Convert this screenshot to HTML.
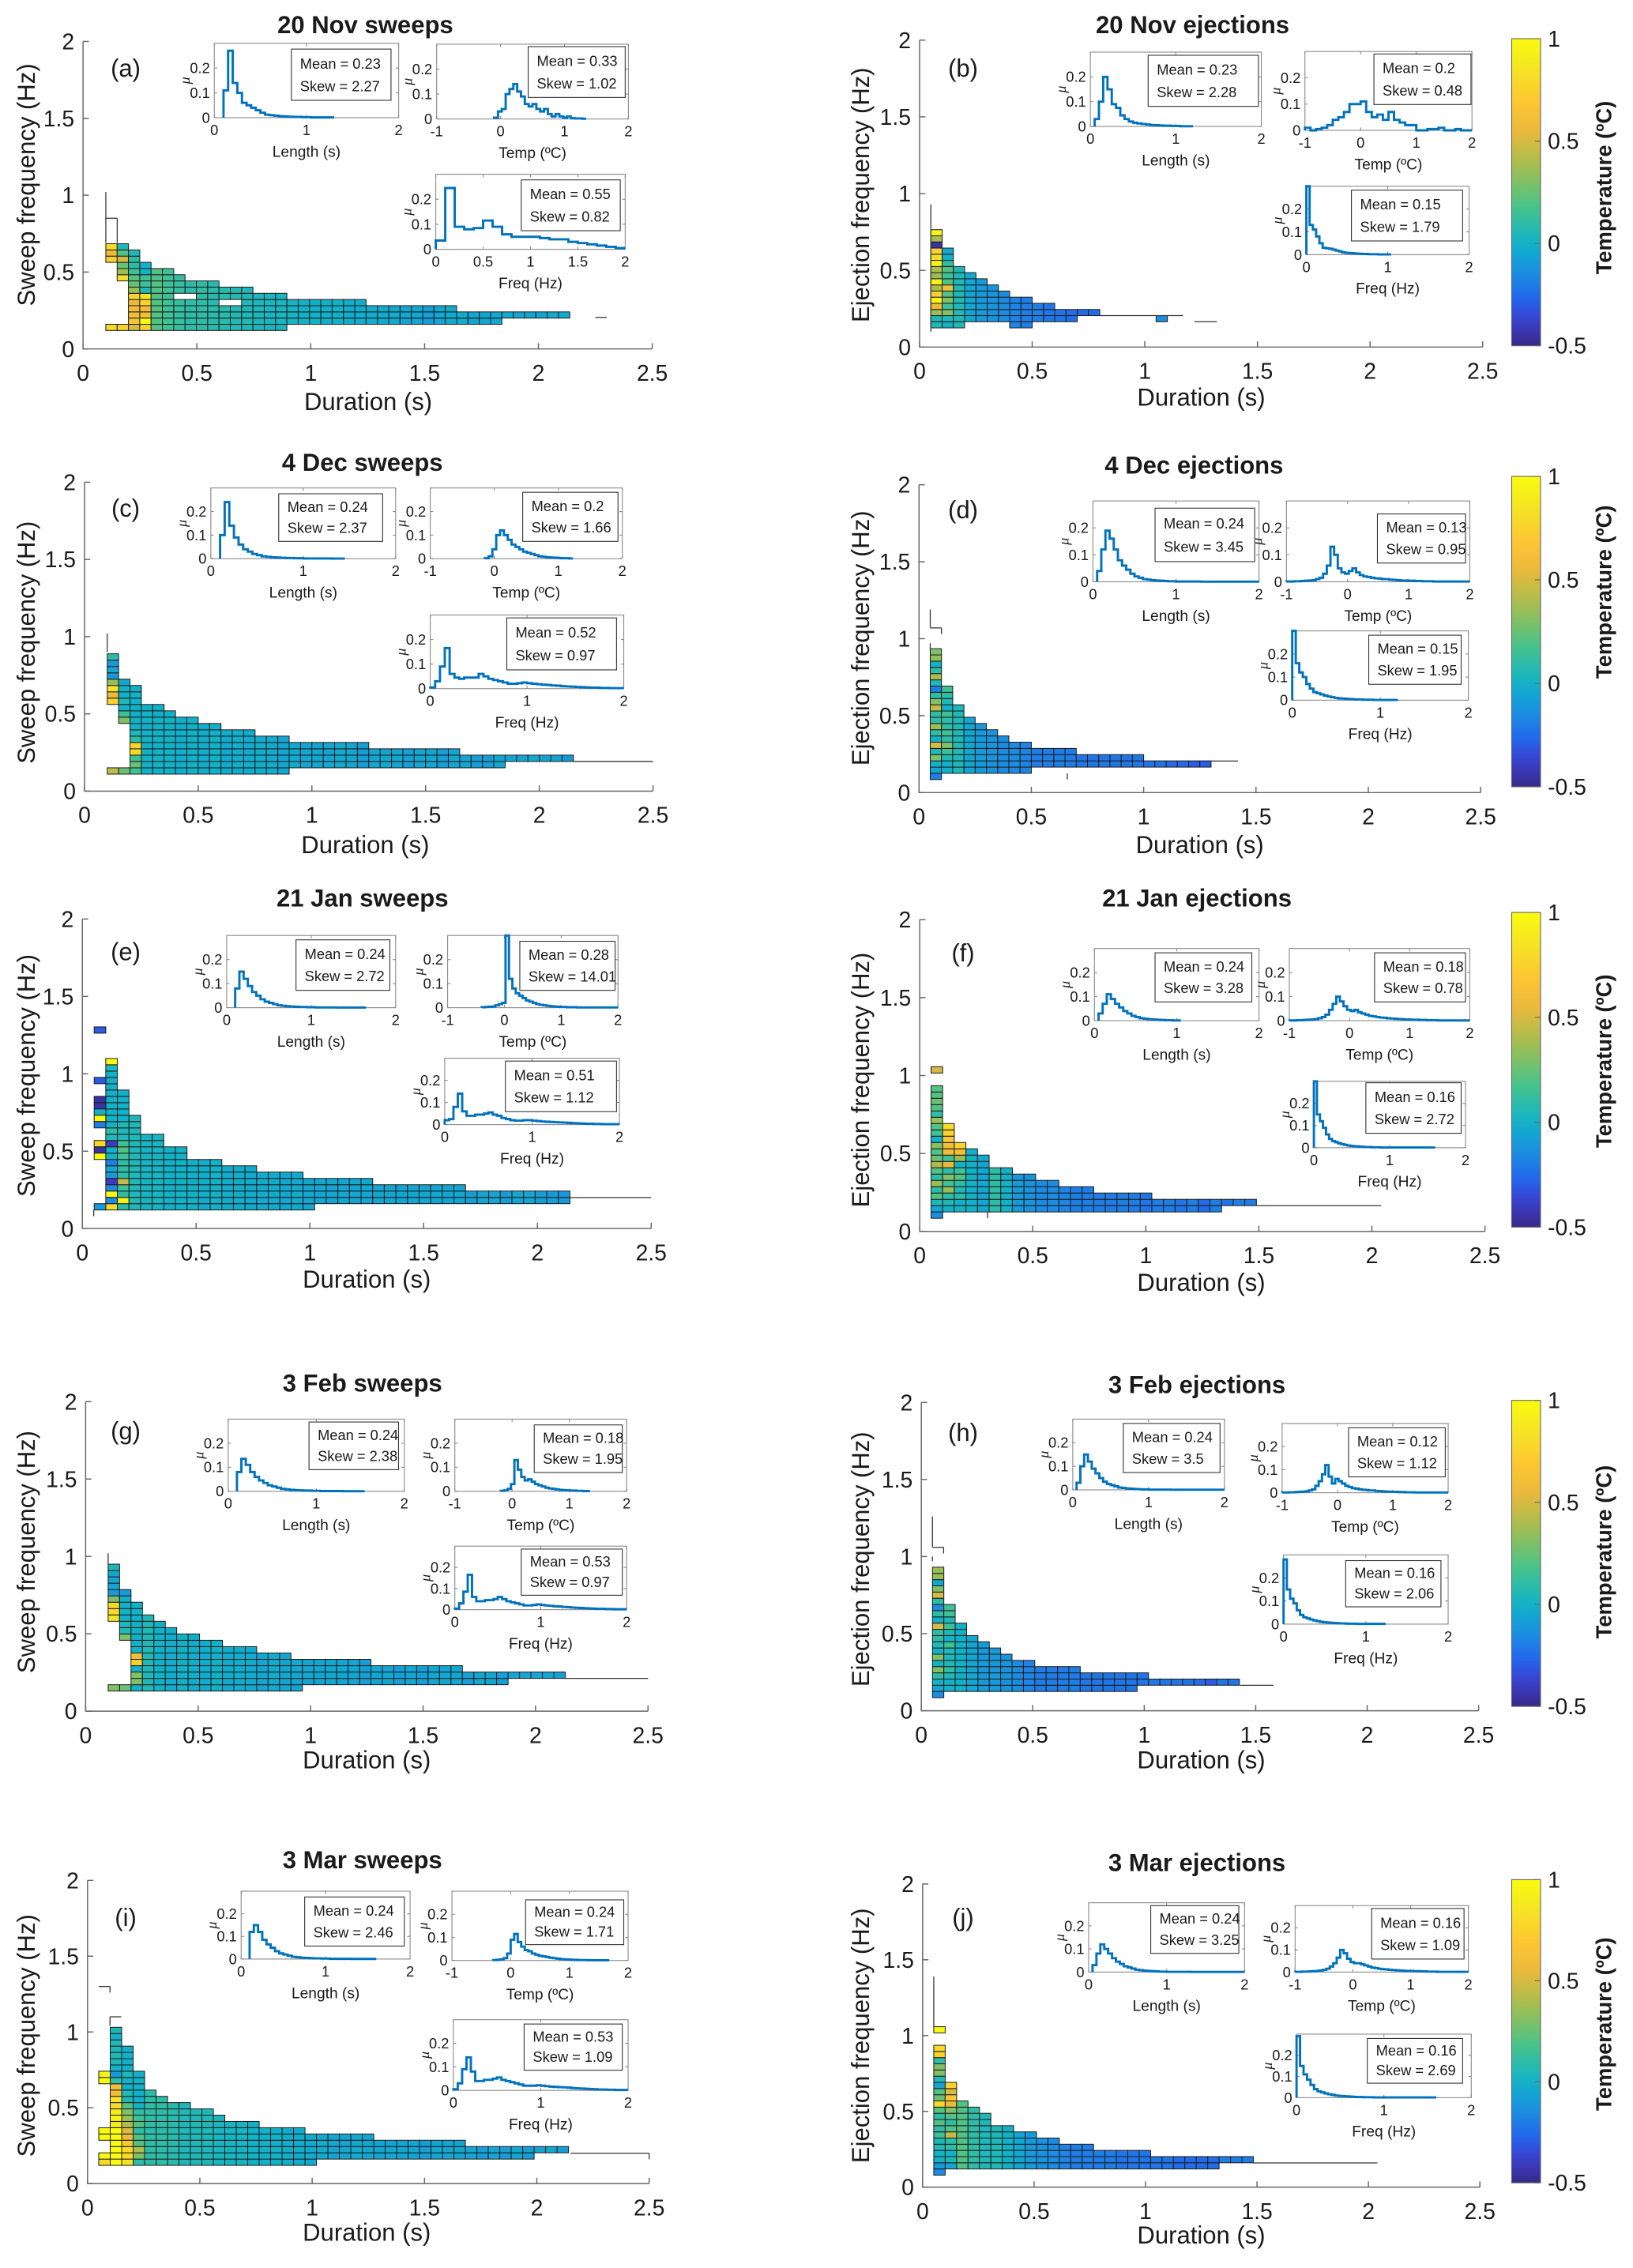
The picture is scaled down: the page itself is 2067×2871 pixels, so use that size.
<!DOCTYPE html>
<html><head><meta charset="utf-8">
<style>
html,body{margin:0;padding:0;background:#fff;}
svg{display:block;font-family:"Liberation Sans",Arial,sans-serif;}
</style></head>
<body>
<svg id="fig" xmlns="http://www.w3.org/2000/svg" width="2067" height="2871" viewBox="0 0 1131 1571">
<defs>
<linearGradient id="cbgrad" x1="0" y1="1" x2="0" y2="0"></linearGradient>
</defs>
</svg>
<script>
// ---------------- heatmap data (row indices / temperatures) ----------------
const aColTop=[14,14,13,11,10,10,9,8,8,8,7,7,7,6,6,6,5,5,5,5,5,5,5,4,4,4,4,4,4,4,4,3,3,3,3,3,3,3,3,3,3];
const aColBot=[11,8,0,0,0,0,0,0,0,0,0,0,0,0,0,0,1,1,1,1,1,1,1,1,1,1,1,1,1,1,1,1,1,1,1,2,2,2,2,2,2];
const aColTemp=[0.6,0.3,0.4,0.5,0.2,0.15,0.12,0.1,0.1,0.08,0.08,0.06,0.05,0.04,0.03,0.03,0.02,0,0,0,0,-0.02,-0.02,-0.02,-0.03,-0.03,-0.05,-0.05,-0.08,-0.05,-0.03,-0.03,-0.05,-0.05,-0.05,-0.03,-0.05,-0.05,-0.05,-0.03,-0.03];
const aColRows=[[0,[0.75,0.55,0.8]],[1,[0.8,0.35,0.25,0.5,0.2,0.05]],[2,[0.5,0.65,0.6,0.6,0.55,0.75,0.35,0.25,0.2,0.15,0.1,0.1,0.05]],[3,[0.75,1.0,0.6,0.6,0.75,0.85,0.05,0.15,0.15,0.0,0.0]]];
const aExtras=[[0,0,0.8],[1,0,0.75]];
const aHoles=[[6,5],[7,5],[10,4],[11,4]];
const aLines=[[0.1,0.69,0.1,1.02],[0.1,0.85,0.15,0.85],[0.15,0.69,0.15,0.85],[2.25,0.205,2.3,0.205]];

const bColTop=[16,13,10,9,8,7,6,5,5,4,4,3,3,3,3];
const bColBot=[0,0,0,1,1,1,1,0,0,1,1,1,1,2,2];
const bColTemp=[0.5,0.25,0.05,-0.05,-0.1,-0.12,-0.15,-0.18,-0.2,-0.2,-0.22,-0.22,-0.25,-0.25,-0.25];
const bColRows=[[0,[0.05,0.05,0.35,0.55,0.95,0.75,0.4,0.95,0.35,0.4,0.95,0.8,0.75,-0.45,0.4,0.95]],[1,[0.0,0.05,0.3,0.15,0.3,0.2,0.6,0.2,0.15,0.2,0.1,0.0,-0.05]]];
const bExtras=[[20,1,-0.15]];
const bHoles=[];
const bLines=[[0.05,0.1,0.05,0.93],[0.8,0.205,1.17,0.205],[1.22,0.165,1.32,0.165]];

const cColTop=[19,15,14,11,11,10,9,9,8,8,7,7,7,6,6,6,5,5,5,5,5,5,5,4,4,4,4,4,4,4,4,3,3,3,3,3,3,3,3,3,3];
const cColBot=[11,8,0,0,0,0,0,0,0,0,0,0,0,0,0,0,1,1,1,1,1,1,1,1,1,1,1,1,1,1,1,1,1,1,1,2,2,2,2,2,2];
const cColTemp=[0.3,0.1,0.1,0.0,0.0,0.0,-0.02,0.0,-0.02,0.0,-0.03,-0.02,-0.03,-0.02,-0.03,-0.05,-0.03,-0.05,-0.05,-0.05,-0.03,-0.05,-0.08,-0.05,-0.05,-0.05,-0.08,-0.05,-0.05,-0.08,-0.05,-0.05,-0.08,-0.08,-0.05,-0.05,-0.05,-0.03,-0.05,-0.05,-0.1];
const cColRows=[[0,[0.75,0.55,0.85,0.35,-0.1,-0.05,-0.1,0.1]],[1,[0.3,0.15,0.0,0.05,0.0,0.0,-0.05]],[2,[0.15,0.25,0.15,0.8,0.75,0.1,0.05,0.0,0.0,0.0,0.0,0.0,0.0,0.0]]];
const cExtras=[[0,0,0.45],[1,0,0.25]];
const cHoles=[];
const cLines=[[0.1,0.9,0.1,1.02],[2.15,0.192,2.5,0.192]];

const dColTop=[20,14,11,9,8,7,6,5,5,4,4,4,4,3,3,3,3,3,3,2,2,2,2,2,2];
const dColBot=[0,0,0,0,0,0,0,0,0,1,1,1,1,1,1,1,1,1,1,1,1,1,1,1,1];
const dColTemp=[0.2,0.1,0.05,-0.05,-0.1,-0.12,-0.15,-0.15,-0.18,-0.2,-0.2,-0.2,-0.2,-0.22,-0.22,-0.22,-0.22,-0.22,-0.22,-0.22,-0.22,-0.25,-0.25,-0.3,-0.3];
const dColRows=[[0,[-0.05,0.0,0.3,0.05,0.5,0.0,0.1,0.35,0.1,0.1,0.45,0.3,0.1,-0.2,0.05,0.4,0.1,0.0,0.35,0.3]],[1,[0.0,0.0,0.05,0.15,0.3,0.1,0.15,0.1,0.1,0.15,0.0,0.05,0.1,0.15]]];
const dExtras=[[0,-1,-0.2]];
const dHoles=[];
const dLines=[[0.05,1.07,0.05,1.19],[0.05,1.07,0.1,1.07],[0.1,1.07,0.1,1.03],[0.05,0.93,0.05,0.97],[1.3,0.205,1.42,0.205],[0.66,0.085,0.66,0.125]];

const eColTop=[0,24,19,15,12,12,10,10,8,8,8,7,7,7,6,6,6,6,5,5,5,5,5,5,4,4,4,4,4,4,4,4,3,3,3,3,3,3,3,3,3];
const eColBot=[0,0,0,0,0,0,0,0,0,0,0,0,0,0,0,0,0,0,0,1,1,1,1,1,1,1,1,1,1,1,1,1,1,1,1,1,1,1,1,1,1];
const eColTemp=[0,0,0.1,0.05,0.02,0.02,0.0,0.0,0.0,-0.02,0.0,-0.02,-0.02,-0.03,-0.03,-0.03,-0.05,-0.03,-0.05,-0.05,-0.05,-0.05,-0.05,-0.05,-0.05,-0.05,-0.05,-0.05,-0.05,-0.05,-0.05,-0.05,-0.08,-0.05,-0.05,-0.08,-0.05,-0.05,-0.08,-0.08,-0.1];
const eColRows=[[1,[0.8,-0.15,1.0,-0.15,-0.4,-0.1,-0.05,-0.2,0.0,0.0,-0.4,0.05,0.1,0.0,0.0,0.0,0.0,0.0,0.0,0.0,0.0,0.0,0.05,1.0]],[2,[0.1,0.95,0.1,0.15,0.45,0.1,0.1,0.1,0.15,0.2,0.15,0.05,0.05,0.05,0.0,0.0,0.0,0.0,0.0]]];
const eExtras=[[0,28,-0.3],[0,20,-0.3],[0,17,-0.45],[0,16,-0.45],[0,15,0.0],[0,14,1.0],[0,13,-0.2],[0,10,0.8],[0,9,-0.45],[0,8,1.0],[0,0,-0.1]];
const eHoles=[];
const eLines=[[2.14,0.2,2.5,0.2],[0.05,0.08,0.05,0.12]];

const fColTop=[20,14,11,10,9,7,7,6,6,5,5,4,4,4,3,3,3,3,3,2,2,2,2,2,2,2,2,2];
const fColBot=[0,0,0,0,0,0,0,0,0,0,0,0,0,0,0,0,0,0,0,0,0,0,0,0,0,1,1,1];
const fColTemp=[0.2,0.3,0.1,0.0,-0.05,0.1,0.0,-0.1,-0.12,-0.15,-0.15,-0.18,-0.2,-0.2,-0.2,-0.2,-0.2,-0.2,-0.22,-0.2,-0.2,-0.22,-0.2,-0.25,-0.2,-0.22,-0.2,-0.2];
const fColRows=[[0,[-0.05,0.05,0.2,0.1,0.35,0.1,0.2,0.4,0.25,0.2,0.3,0.0,0.15,0.2,0.35,0.1,0.2,0.25,0.2,0.2]],[1,[0.0,0.05,0.1,0.35,0.15,0.3,0.1,0.55,0.15,0.6,0.6,0.7,0.75,0.8]],[2,[0.0,0.0,0.1,0.05,0.1,0.2,0.15,0.0,0.35,0.6,0.75]]];
const fExtras=[[0,-1,-0.15],[0,22,0.5]];
const fHoles=[];
const fLines=[[1.49,0.165,2.04,0.165],[0.3,0.085,0.3,0.125]];

const gColTop=[20,16,14,12,11,10,9,9,8,8,7,7,7,6,6,6,5,5,5,5,5,5,5,4,4,4,4,4,4,4,4,3,3,3,3,3,3,3,3,3];
const gColBot=[11,8,0,0,0,0,0,0,0,0,0,0,0,0,0,0,0,1,1,1,1,1,1,1,1,1,1,1,1,1,1,1,1,1,1,2,2,2,2,2];
const gColTemp=[0.3,0.05,0.1,0.05,0.0,-0.02,0.0,-0.02,-0.02,0.0,-0.03,-0.02,-0.03,-0.05,-0.03,-0.05,-0.05,-0.05,-0.05,-0.05,-0.05,-0.05,-0.08,-0.05,-0.05,-0.08,-0.05,-0.08,-0.05,-0.05,-0.05,-0.08,-0.05,-0.05,-0.08,-0.05,-0.05,-0.05,-0.05,-0.08];
const gColRows=[[0,[0.85,0.8,0.8,0.3,-0.1,-0.05,-0.05,-0.05,0.05]],[1,[0.3,0.05,0.05,0.0,0.0,0.0,0.0,-0.1]],[2,[0.0,0.3,0.3,0.0,0.75,0.6,0.0,0.0,0.0,0.0,0.0,0.0,0.0,0.0]]];
const gExtras=[[0,0,0.3],[1,0,0.25]];
const gHoles=[];
const gLines=[[0.1,0.95,0.1,1.02],[2.13,0.212,2.5,0.212]];

const hColTop=[20,14,11,9,8,7,6,5,5,4,4,4,4,3,3,3,3,3,3,2,2,2,2,2,2,2,2];
const hColBot=[0,0,0,0,0,0,0,0,0,0,0,0,0,0,0,0,0,0,1,1,1,1,1,1,1,1,1];
const hColTemp=[0.1,0.05,0.0,-0.05,-0.1,-0.1,-0.12,-0.15,-0.18,-0.2,-0.2,-0.2,-0.2,-0.22,-0.22,-0.22,-0.22,-0.22,-0.22,-0.22,-0.22,-0.22,-0.22,-0.25,-0.3,-0.22,-0.22];
const hColRows=[[0,[-0.05,0.0,0.1,0.3,0.0,0.3,0.0,0.05,0.1,0.1,0.5,0.0,0.1,-0.15,0.1,0.5,0.3,-0.05,0.35,0.35]],[1,[0.0,0.0,0.05,0.1,0.05,0.05,0.05,0.15,0.0,0.05,0.15,0.05,0.15,0.15]]];
const hExtras=[[0,-1,-0.15]];
const hHoles=[];
const hLines=[[0.05,1.06,0.05,1.26],[0.05,1.06,0.1,1.06],[0.1,1.06,0.1,1.02],[0.05,0.97,0.05,1.0],[1.43,0.165,1.58,0.165]];

const iColTop=[0,22,19,15,12,11,10,10,9,9,8,7,7,7,6,6,6,6,5,5,5,5,5,5,4,4,4,4,4,4,4,4,3,3,3,3,3,3,3,3,3];
const iColBot=[0,0,0,0,0,0,0,0,0,0,0,0,0,0,0,0,0,0,0,1,1,1,1,1,1,1,1,1,1,1,1,1,1,1,1,1,1,1,2,2,2];
const iColTemp=[0,0.5,0.5,0.15,0.1,0.1,0.08,0.05,0.05,0.05,0.03,0.02,0.02,0.0,0.0,0.0,-0.02,-0.02,-0.03,-0.03,-0.05,-0.05,-0.03,-0.05,-0.05,-0.05,-0.05,-0.05,-0.08,-0.05,-0.05,-0.05,-0.05,-0.08,-0.05,-0.08,-0.05,-0.08,-0.05,-0.05,-0.08];
const iColRows=[[1,[1.0,1.0,1.0,1.0,1.0,1.0,0.9,0.95,0.9,0.8,0.85,0.6,0.6,0.1,-0.1,0.0,0.05,0.05,0.05,0.05,0.0,0.05]],[2,[0.85,0.8,0.8,0.7,0.55,0.5,0.4,0.35,0.3,0.2,0.05,0.05,0.0,0.0,0.05,0.0,0.0,0.0,0.0]],[3,[0.1,0.3,0.4,0.2,0.2,0.1,0.2,0.15,0.1,0.0,0.0,0.0,0.0,0.0,0.0]]];
const iExtras=[[0,0,0.8],[0,1,1.0],[0,4,1.0],[0,5,1.0],[0,13,1.0],[0,14,0.95]];
const iHoles=[];
const iLines=[[0.05,1.3,0.1,1.3],[0.1,1.3,0.1,1.26],[0.1,1.04,0.1,1.1],[0.1,1.1,0.15,1.1],[2.15,0.2,2.5,0.2],[2.5,0.2,2.5,0.16]];

const jColTop=[20,14,11,10,9,7,7,6,6,5,5,4,4,4,3,3,3,3,3,2,2,2,2,2,2,2,2,2];
const jColBot=[0,0,0,0,0,0,0,0,0,0,0,0,0,0,0,0,0,0,0,0,0,0,0,0,0,1,1,1];
const jColTemp=[0.2,0.3,0.2,0.1,0.05,0.05,0.0,-0.05,-0.1,-0.12,-0.15,-0.18,-0.2,-0.2,-0.2,-0.2,-0.22,-0.22,-0.22,-0.22,-0.22,-0.25,-0.25,-0.25,-0.25,-0.2,-0.2,-0.2];
const jColRows=[[0,[-0.1,0.0,0.0,0.05,0.05,0.15,0.1,0.2,0.1,0.2,0.8,0.25,0.2,-0.05,0.05,0.3,0.3,0.1,0.75,0.8]],[1,[-0.05,0.05,0.0,0.1,0.1,0.45,0.2,0.1,0.2,0.3,0.55,0.7,0.5,0.75]]];
const jExtras=[[0,-1,-0.15],[0,22,1.0]];
const jHoles=[];
const jLines=[[0.05,1.06,0.05,1.39],[1.48,0.16,2.04,0.16]];

// ---------------- inset histogram values ----------------
const aLen=[0.11,0.27,0.14,0.1,0.06,0.05,0.04,0.03,0.02,0.012,0.01,0.008,0.006,0.005,0.004,0.003,0.003,0.002,0.002,0.001,0.001,0.001,0.001,0.001];
const cLen=[0.1,0.24,0.14,0.09,0.06,0.04,0.03,0.02,0.015,0.01,0.008,0.006,0.005,0.004,0.003,0.003,0.002,0.002,0.001,0.001,0.001,0.001,0.001,0.001,0.0005,0.0005,0.0005];
const eLen=[0.08,0.15,0.12,0.09,0.065,0.05,0.035,0.025,0.02,0.015,0.01,0.008,0.006,0.005,0.004,0.003,0.003,0.002,0.002,0.001,0.001,0.001,0.001,0.001,0.0005,0.0005,0.0005,0.0005,0.0005,0.0005,0.0005];
const gLen=[0.08,0.135,0.11,0.08,0.06,0.045,0.035,0.025,0.02,0.015,0.01,0.008,0.006,0.005,0.004,0.003,0.003,0.002,0.002,0.001,0.001,0.001,0.001,0.001,0.0005,0.0005,0.0005,0.0005,0.0005];
const iLen=[0.12,0.15,0.12,0.085,0.065,0.05,0.035,0.025,0.02,0.015,0.01,0.008,0.006,0.005,0.004,0.003,0.003,0.002,0.002,0.001,0.001,0.001,0.001,0.001,0.0005,0.0005,0.0005,0.0005,0.0005,0.0005];
const bLen=[0.03,0.1,0.2,0.15,0.09,0.075,0.045,0.03,0.02,0.015,0.012,0.01,0.008,0.006,0.005,0.004,0.003,0.003,0.002,0.002,0.001,0.001,0.001];
const dLen=[0.04,0.12,0.19,0.16,0.12,0.08,0.06,0.045,0.03,0.02,0.015,0.01,0.008,0.006,0.005,0.004,0.003,0.002,0.002,0.001,0.001,0.001,0.001,0.001,0.001,0.0005,0.0005,0.0005,0.0005,0.0005,0.0005,0.0005,0.0005,0.0005,0.0005,0.0005,0.0005,0.0005,0.0005];
const fLen=[0.03,0.07,0.11,0.09,0.07,0.055,0.04,0.03,0.02,0.015,0.01,0.008,0.006,0.005,0.004,0.003,0.002,0.002,0.001,0.001];
const hLen=[0.03,0.1,0.15,0.12,0.09,0.07,0.05,0.035,0.025,0.02,0.015,0.01,0.008,0.006,0.005,0.004,0.003,0.002,0.002,0.001,0.001,0.001,0.001,0.001,0.001,0.0005,0.0005,0.0005,0.0005,0.0005,0.0005,0.0005,0.0005,0.0005,0.0005,0.0005,0.0005,0.0005,0.0005];
const jLen=[0.03,0.08,0.12,0.1,0.08,0.06,0.045,0.035,0.025,0.02,0.015,0.01,0.008,0.006,0.005,0.004,0.003,0.002,0.002,0.001,0.001,0.001,0.001,0.001,0.001,0.0005,0.0005,0.0005,0.0005,0.0005,0.0005,0.0005,0.0005,0.0005,0.0005,0.0005,0.0005,0.0005,0.0005];

const aTmp=[0.005,0.03,0.04,0.1,0.12,0.14,0.11,0.09,0.06,0.05,0.06,0.04,0.03,0.04,0.02,0.01,0.02,0.01,0.005,0.01,0.003,0.002,0.002,0.001];
const bTmp=[0.01,0,0.005,0.01,0.02,0.04,0.05,0.07,0.1,0.1,0.11,0.07,0.05,0.06,0.04,0.07,0.04,0.03,0.02,0.02,0,0,0.005,0.005,0.01,0,0,0.005,0,0];
const cTmp=[0.002,0.01,0.04,0.1,0.12,0.1,0.08,0.06,0.05,0.04,0.03,0.025,0.02,0.015,0.01,0.008,0.006,0.005,0.004,0.003,0.002,0.002,0.001];
const dTmp=[0.001,0.001,0.002,0.002,0.003,0.004,0.005,0.006,0.01,0.015,0.03,0.06,0.13,0.1,0.05,0.035,0.03,0.04,0.05,0.035,0.025,0.02,0.018,0.015,0.013,0.012,0.01,0.01,0.008,0.007,0.006,0.005,0.005,0.004,0.004,0.003,0.003,0.002,0.002,0.002,0.001,0.001,0.001,0.001,0.001,0.001,0.001,0.001,0.001,0.001];
const eTmp=[0.002,0.003,0.004,0.005,0.01,0.015,0.02,0.3,0.12,0.08,0.06,0.05,0.04,0.03,0.025,0.02,0.015,0.012,0.01,0.008,0.006,0.005,0.004,0.003,0.003,0.002,0.002,0.002,0.001,0.001,0.001,0.001,0.001,0.001,0.001,0.001,0.001,0.001,0.001,0.001];
const fTmp=[0.001,0.001,0.002,0.002,0.003,0.004,0.005,0.007,0.01,0.015,0.025,0.045,0.07,0.1,0.08,0.06,0.045,0.04,0.045,0.035,0.03,0.025,0.02,0.018,0.015,0.013,0.012,0.01,0.009,0.008,0.007,0.006,0.005,0.005,0.004,0.004,0.003,0.003,0.002,0.002,0.002,0.001,0.001,0.001,0.001,0.001,0.001,0.001,0.001,0.001];
const gTmp=[0.002,0.004,0.01,0.03,0.13,0.09,0.06,0.045,0.05,0.04,0.03,0.025,0.02,0.015,0.012,0.01,0.008,0.006,0.005,0.004,0.003,0.003,0.002,0.002,0.001,0.001];
const hTmp=[0.001,0.001,0.002,0.002,0.003,0.004,0.005,0.006,0.01,0.015,0.03,0.05,0.08,0.12,0.07,0.04,0.06,0.05,0.04,0.03,0.025,0.02,0.018,0.015,0.013,0.012,0.01,0.01,0.008,0.007,0.006,0.005,0.005,0.004,0.004,0.003,0.003,0.002,0.002,0.002,0.001,0.001,0.001,0.001,0.001,0.001,0.001,0.001,0.001,0.001];
const iTmp=[0.002,0.003,0.005,0.01,0.03,0.09,0.115,0.08,0.06,0.045,0.04,0.03,0.025,0.02,0.018,0.015,0.012,0.01,0.008,0.006,0.005,0.004,0.003,0.003,0.002,0.002,0.002,0.001,0.001,0.001,0.001,0.001,0.001];
const jTmp=[0.001,0.001,0.002,0.002,0.003,0.004,0.005,0.007,0.01,0.015,0.025,0.04,0.065,0.1,0.085,0.06,0.045,0.04,0.04,0.035,0.03,0.025,0.02,0.018,0.015,0.013,0.012,0.01,0.009,0.008,0.007,0.006,0.005,0.005,0.004,0.004,0.003,0.003,0.002,0.002,0.002,0.001,0.001,0.001,0.001,0.001,0.001,0.001,0.001,0.001];

const aFrq=[0.035,0.245,0.09,0.08,0.085,0.115,0.09,0.06,0.05,0.05,0.05,0.045,0.04,0.04,0.03,0.025,0.02,0.015,0.01,0.005];
const cFrq=[0.005,0.03,0.09,0.165,0.06,0.045,0.04,0.045,0.045,0.045,0.06,0.05,0.04,0.035,0.03,0.025,0.02,0.02,0.022,0.025,0.022,0.02,0.018,0.016,0.015,0.013,0.012,0.01,0.009,0.008,0.007,0.006,0.005,0.004,0.004,0.003,0.003,0.002,0.002,0.002];
const eFrq=[0.02,0.025,0.08,0.14,0.06,0.04,0.04,0.045,0.045,0.05,0.055,0.045,0.04,0.03,0.025,0.02,0.018,0.018,0.02,0.02,0.018,0.016,0.014,0.013,0.012,0.011,0.01,0.009,0.008,0.007,0.006,0.005,0.004,0.004,0.003,0.003,0.002,0.002,0.002,0.002];
const gFrq=[0.005,0.03,0.085,0.165,0.06,0.04,0.04,0.045,0.045,0.05,0.06,0.05,0.04,0.035,0.03,0.025,0.02,0.02,0.022,0.025,0.022,0.02,0.018,0.016,0.015,0.013,0.012,0.01,0.009,0.008,0.007,0.006,0.005,0.004,0.004,0.003,0.003,0.002,0.002,0.002];
const iFrq=[0.005,0.03,0.09,0.14,0.08,0.04,0.04,0.045,0.045,0.05,0.055,0.045,0.04,0.035,0.03,0.025,0.02,0.02,0.02,0.022,0.02,0.018,0.016,0.015,0.014,0.013,0.012,0.01,0.009,0.008,0.007,0.006,0.005,0.004,0.004,0.003,0.003,0.002,0.002,0.002];
const bFrq=[0.3,0.13,0.11,0.08,0.05,0.03,0.028,0.026,0.022,0.018,0.014,0.01,0.008,0.007,0.006,0.005,0.004,0.003,0.003,0.002,0.002,0.002,0.001,0.001,0.001,0.001];
const dFrq=[0.3,0.16,0.12,0.1,0.07,0.05,0.035,0.03,0.025,0.02,0.016,0.013,0.01,0.008,0.007,0.006,0.005,0.004,0.003,0.003,0.002,0.002,0.002,0.001,0.001,0.001,0.001,0.001,0.001,0.001];
const fFrq=[0.3,0.15,0.12,0.09,0.06,0.04,0.03,0.025,0.02,0.016,0.013,0.01,0.008,0.007,0.006,0.005,0.004,0.003,0.003,0.002,0.002,0.002,0.001,0.001,0.001,0.001,0.001,0.001,0.001,0.001,0.001,0.001,0.001,0.001,0.001,0.001,0.001,0.001,0.001,0.001];
const hFrq=[0.28,0.15,0.11,0.09,0.06,0.04,0.03,0.025,0.02,0.016,0.013,0.01,0.008,0.007,0.006,0.005,0.004,0.003,0.003,0.002,0.002,0.002,0.001,0.001,0.001,0.001,0.001,0.001,0.001,0.001,0.001];
const jFrq=[0.29,0.15,0.11,0.085,0.06,0.04,0.03,0.025,0.02,0.016,0.013,0.01,0.008,0.007,0.006,0.005,0.004,0.003,0.003,0.002,0.002,0.002,0.001,0.001,0.001,0.001,0.001,0.001,0.001,0.001,0.001,0.001,0.001,0.001,0.001,0.001,0.001,0.001,0.001,0.001];

// legend stats [mean, skew] for Length, Temp, Freq
const aStats=[["0.23","2.27"],["0.33","1.02"],["0.55","0.82"]];
const bStats=[["0.23","2.28"],["0.2","0.48"],["0.15","1.79"]];
const cStats=[["0.24","2.37"],["0.2","1.66"],["0.52","0.97"]];
const dStats=[["0.24","3.45"],["0.13","0.95"],["0.15","1.95"]];
const eStats=[["0.24","2.72"],["0.28","14.01"],["0.51","1.12"]];
const fStats=[["0.24","3.28"],["0.18","0.78"],["0.16","2.72"]];
const gStats=[["0.24","2.38"],["0.18","1.95"],["0.53","0.97"]];
const hStats=[["0.24","3.5"],["0.12","1.12"],["0.16","2.06"]];
const iStats=[["0.24","2.46"],["0.24","1.71"],["0.53","1.09"]];
const jStats=[["0.24","3.25"],["0.16","1.09"],["0.16","2.69"]];

const mainXTicks=[0,0.5,1,1.5,2,2.5];
const mainXTickLabels=["0","0.5","1","1.5","2","2.5"];
const mainYTicks=[0,0.5,1,1.5,2];
const mainYTickLabels=["0","0.5","1","1.5","2"];
const cbTicks=[1,0.5,0,-0.5];
const cbTickLabels=["1","0.5","0","-0.5"];
const insetYTicks=[0,0.1,0.2];
const insetYTickLabels=["0","0.1","0.2"];

// ---------------- layout ----------------
const SW={d0:0.1,cw:0.05};
const panels=[
 {id:'a',title:'20 Nov sweeps',tp:[253,23],lp:[87,53],xl:[255,284],yl:[18,128],yname:'Sweep frequency (Hz)',x0:57.5,y0:241.7,xs:157.7,ys:106.5,
  hm:{d0:0.10,cw:0.0497,f0:0.12,rh:0.0403,top:aColTop,bot:aColBot,temp:aColTemp,rows:aColRows,extras:aExtras,holes:aHoles},lines:aLines,
  ins:[{r:[148.4,30,276.1,81.5],lg:[201.8,34,270.8,69.5],x:[0,2],xt:[0,1,2],lab:'Length (s)',v:aLen,s:0.1,w:0.05},
       {r:[302.4,30.6,435.2,82.4],lg:[365.8,32.3,433,67.5],x:[-1,2],xt:[-1,0,1,2],lab:'Temp (ºC)',v:aTmp,s:-0.1,w:0.06},
       {r:[301.8,120.7,433,172.7],lg:[361,124.6,429.6,159.8],x:[0,2],xt:[0,0.5,1,1.5,2],lab:'Freq (Hz)',v:aFrq,s:0,w:0.1}],stats:aStats},
 {id:'b',title:'20 Nov ejections',tp:[826,23],lp:[667,53],xl:[832,281],yl:[596,135],yname:'Ejection frequency (Hz)',x0:636.9,y0:240.4,xs:156,ys:106.3,
  hm:{d0:0.05,cw:0.05,f0:0.125,rh:0.04,top:bColTop,bot:bColBot,temp:bColTemp,rows:bColRows,extras:bExtras,holes:bHoles},lines:bLines,
  ins:[{r:[755.2,36.1,873.6,87.6],lg:[795.2,38.3,871.6,73.7],x:[0,2],xt:[0,1,2],lab:'Length (s)',v:bLen,s:0.05,w:0.05},
       {r:[903.8,35.7,1019.5,90.3],lg:[951.6,37.4,1018.8,72.4],x:[-1,2],xt:[-1,0,1,2],lab:'Temp (ºC)',v:bTmp,s:-1,w:0.1},
       {r:[904.8,129,1017.5,176.4],lg:[936,131.7,1013,166.9],x:[0,2],xt:[0,1,2],lab:'Freq (Hz)',v:bFrq,s:0,w:0.04}],stats:bStats,cb:[26.8,239.5,130]},
 {id:'c',title:'4 Dec sweeps',tp:[251,326],lp:[87,358],xl:[253,591],yl:[18,445],yname:'Sweep frequency (Hz)',x0:58.5,y0:548,xs:157.5,ys:107,
  hm:{d0:0.10,cw:0.05,f0:0.11,rh:0.041,top:cColTop,bot:cColBot,temp:cColTemp,rows:cColRows,extras:cExtras,holes:cHoles},lines:cLines,
  ins:[{r:[146,338,274,387],lg:[193,342,265,375],x:[0,2],xt:[0,1,2],lab:'Length (s)',v:cLen,s:0.1,w:0.05},
       {r:[298,338,431,387],lg:[362,341,428,375],x:[-1,2],xt:[-1,0,1,2],lab:'Temp (ºC)',v:cTmp,s:-0.15,w:0.06},
       {r:[298,426,432,477],lg:[351,428,427,464],x:[0,2],xt:[0,1,2],lab:'Freq (Hz)',v:cFrq,s:0,w:0.05}],stats:cStats},
 {id:'d',title:'4 Dec ejections',tp:[827,328],lp:[667,359],xl:[831,591],yl:[596,442],yname:'Ejection frequency (Hz)',x0:636.5,y0:549,xs:155.6,ys:106.6,
  hm:{d0:0.05,cw:0.05,f0:0.125,rh:0.0405,top:dColTop,bot:dColBot,temp:dColTemp,rows:dColRows,extras:dExtras,holes:dHoles},lines:dLines,
  ins:[{r:[757,347,872,403],lg:[800,352,869,389],x:[0,2],xt:[0,1,2],lab:'Length (s)',v:dLen,s:0.05,w:0.05},
       {r:[891,347,1018,403],lg:[954,356,1015,390],x:[-1,2],xt:[-1,0,1,2],lab:'Temp (ºC)',v:dTmp,s:-1,w:0.06},
       {r:[895,437,1017,485],lg:[948,440,1012,474],x:[0,2],xt:[0,1,2],lab:'Freq (Hz)',v:dFrq,s:0,w:0.04}],stats:dStats,cb:[330,545,410]},
 {id:'e',title:'21 Jan sweeps',tp:[251,628],lp:[87,665],xl:[254,892],yl:[18,745],yname:'Sweep frequency (Hz)',x0:57,y0:851,xs:157.6,ys:107.2,
  hm:{d0:0.052,cw:0.051,f0:0.12,rh:0.0408,top:eColTop,bot:eColBot,temp:eColTemp,rows:eColRows,extras:eExtras,holes:eHoles},lines:eLines,
  ins:[{r:[157,648,274,698],lg:[205,651,270,686],x:[0,2],xt:[0,1,2],lab:'Length (s)',v:eLen,s:0.1,w:0.05},
       {r:[310,648,428,698],lg:[360,652,426,686],x:[-1,2],xt:[-1,0,1,2],lab:'Temp (ºC)',v:eTmp,s:-0.4,w:0.06},
       {r:[308,733,429,779],lg:[350,735,427,770],x:[0,2],xt:[0,1,2],lab:'Freq (Hz)',v:eFrq,s:0,w:0.05}],stats:eStats},
 {id:'f',title:'21 Jan ejections',tp:[829,628],lp:[667,666],xl:[832,894],yl:[596,748],yname:'Ejection frequency (Hz)',x0:637,y0:853,xs:156.6,ys:108,
  hm:{d0:0.05,cw:0.0514,f0:0.125,rh:0.0405,top:fColTop,bot:fColBot,temp:fColTemp,rows:fColRows,extras:fExtras,holes:fHoles},lines:fLines,
  ins:[{r:[758,657,872,707],lg:[800,660,867,694],x:[0,2],xt:[0,1,2],lab:'Length (s)',v:fLen,s:0.05,w:0.05},
       {r:[893,657,1018,707],lg:[952,660,1015,694],x:[-1,2],xt:[-1,0,1,2],lab:'Temp (ºC)',v:fTmp,s:-1,w:0.06},
       {r:[910,749,1015,795],lg:[946,750,1012,785],x:[0,2],xt:[0,1,2],lab:'Freq (Hz)',v:fFrq,s:0,w:0.04}],stats:fStats,cb:[632,850,735]},
 {id:'g',title:'3 Feb sweeps',tp:[251,964],lp:[87,997],xl:[254,1225],yl:[18,1075],yname:'Sweep frequency (Hz)',x0:59.3,y0:1185.3,xs:155.8,ys:107.2,
  hm:{d0:0.1,cw:0.0508,f0:0.13,rh:0.041,top:gColTop,bot:gColBot,temp:gColTemp,rows:gColRows,extras:gExtras,holes:gHoles},lines:gLines,
  ins:[{r:[158,983,280,1033],lg:[214,985,276,1018],x:[0,2],xt:[0,1,2],lab:'Length (s)',v:gLen,s:0.1,w:0.05},
       {r:[315,983,434,1033],lg:[370,987,431,1020],x:[-1,2],xt:[-1,0,1,2],lab:'Temp (ºC)',v:gTmp,s:-0.2,w:0.06},
       {r:[315,1071,434,1115],lg:[361,1073,431,1105],x:[0,2],xt:[0,1,2],lab:'Freq (Hz)',v:gFrq,s:0,w:0.05}],stats:gStats},
 {id:'h',title:'3 Feb ejections',tp:[829,965],lp:[667,998],xl:[832,1225],yl:[596,1080],yname:'Ejection frequency (Hz)',x0:638.1,y0:1185,xs:154.4,ys:106.8,
  hm:{d0:0.05,cw:0.051,f0:0.125,rh:0.0403,top:hColTop,bot:hColBot,temp:hColTemp,rows:hColRows,extras:hExtras,holes:hHoles},lines:hLines,
  ins:[{r:[743,983,848,1032],lg:[778,986,845,1020],x:[0,2],xt:[0,1,2],lab:'Length (s)',v:hLen,s:0.05,w:0.05},
       {r:[888,986,1003,1034],lg:[934,989,1001,1023],x:[-1,2],xt:[-1,0,1,2],lab:'Temp (ºC)',v:hTmp,s:-1,w:0.06},
       {r:[889,1077,1003,1125],lg:[932,1081,998,1113],x:[0,2],xt:[0,1,2],lab:'Freq (Hz)',v:hFrq,s:0,w:0.04}],stats:hStats,cb:[970,1182,1075]},
 {id:'i',title:'3 Mar sweeps',tp:[251,1294],lp:[87,1334],xl:[254,1552],yl:[18,1410],yname:'Sweep frequency (Hz)',x0:60.6,y0:1512.5,xs:155.6,ys:105,
  hm:{d0:0.05,cw:0.051,f0:0.12,rh:0.0414,top:iColTop,bot:iColBot,temp:iColTemp,rows:iColRows,extras:iExtras,holes:iHoles},lines:iLines,
  ins:[{r:[167,1310,284,1357],lg:[211,1314,280,1348],x:[0,2],xt:[0,1,2],lab:'Length (s)',v:iLen,s:0.1,w:0.05},
       {r:[313,1310,435,1358],lg:[364,1316,432,1347],x:[-1,2],xt:[-1,0,1,2],lab:'Temp (ºC)',v:iTmp,s:-0.3,w:0.06},
       {r:[314,1399,435,1448],lg:[363,1402,431,1434],x:[0,2],xt:[0,1,2],lab:'Freq (Hz)',v:iFrq,s:0,w:0.05}],stats:iStats},
 {id:'j',title:'3 Mar ejections',tp:[829,1296],lp:[667,1334],xl:[832,1554],yl:[596,1410],yname:'Ejection frequency (Hz)',x0:639,y0:1515,xs:154.4,ys:105,
  hm:{d0:0.05,cw:0.0512,f0:0.12,rh:0.0408,top:jColTop,bot:jColBot,temp:jColTemp,rows:jColRows,extras:jExtras,holes:jHoles},lines:jLines,
  ins:[{r:[754,1318,862,1366],lg:[797,1320,858,1353],x:[0,2],xt:[0,1,2],lab:'Length (s)',v:jLen,s:0.05,w:0.05},
       {r:[897,1320,1017,1366],lg:[950,1322,1014,1357],x:[-1,2],xt:[-1,0,1,2],lab:'Temp (ºC)',v:jTmp,s:-1,w:0.06},
       {r:[898,1409,1019,1453],lg:[947,1412,1013,1443],x:[0,2],xt:[0,1,2],lab:'Freq (Hz)',v:jFrq,s:0,w:0.04}],stats:jStats,cb:[1302,1512,1402]}
];

// ---------------- helpers ----------------
const NS='http://www.w3.org/2000/svg';
const svg=document.getElementById('fig');
function mk(tag,attrs,parent){const e=document.createElementNS(NS,tag);for(const k in attrs)e.setAttribute(k,attrs[k]);parent.appendChild(e);return e;}
function txt(parent,x,y,s,size,anchor,extra){const e=mk('text',Object.assign({x:x,y:y,'font-size':size,'text-anchor':anchor||'middle',fill:'#1a1a1a'},extra||{}),parent);e.textContent=s;return e;}
const PSTOPS=[[0,[53,42,135]],[0.08,[62,62,205]],[0.15,[35,100,235]],[0.22,[30,135,228]],[0.33,[15,178,202]],[0.45,[70,195,140]],[0.58,[160,190,80]],[0.7,[235,185,60]],[0.8,[252,200,50]],[0.9,[245,228,35]],[1,[249,251,14]]];
function parula(t){t=Math.max(0,Math.min(1,t));for(let i=1;i<PSTOPS.length;i++){if(t<=PSTOPS[i][0]){const a=PSTOPS[i-1],b=PSTOPS[i];const f=(t-a[0])/(b[0]-a[0]);const c=a[1].map((v,k)=>Math.round(v+(b[1][k]-v)*f));return 'rgb('+c.join(',')+')';}}return 'rgb(249,251,14)';}
function tcol(v){return parula((v+0.5)/1.5);}

// colorbar gradient
const grad=document.getElementById('cbgrad');
for(let k=0;k<=20;k++){const st=document.createElementNS(NS,'stop');st.setAttribute('offset',(k/20));st.setAttribute('stop-color',parula(k/20));grad.appendChild(st);}

panels.forEach(P=>{
  const g=mk('g',{},svg);
  
  
  const X=d=>P.x0+d*P.xs, Y=f=>P.y0-f*P.ys;
  // heatmap
  const hg=mk('g',{},g);
  
  
  const H=P.hm;
  const rowMap={};H.rows.forEach(r=>{rowMap[r[0]]=r[1];});
  const holeSet=new Set(H.holes.map(h=>h[0]+'_'+h[1]));
  function cell(ci,r,temp){
    const x1=X(H.d0+ci*H.cw),x2=X(H.d0+(ci+1)*H.cw);
    const y1=Y(H.f0+(r+1)*H.rh),y2=Y(H.f0+r*H.rh);
    const c=mk('rect',{x:x1.toFixed(2),y:y1.toFixed(2),width:(x2-x1).toFixed(2),height:(y2-y1).toFixed(2),fill:tcol(temp),stroke:'#1c1c1c','stroke-width':0.55},hg);
    
    
  }
  for(let ci=0;ci<H.top.length;ci++){
    for(let r=H.bot[ci];r<H.top[ci];r++){
      if(holeSet.has(ci+'_'+r))continue;
      const arr=rowMap[ci];let t=H.temp[ci];
      if(arr&&arr[r-H.bot[ci]]!==undefined)t=arr[r-H.bot[ci]];
      cell(ci,r,t);
    }
  }
  H.extras.forEach(e=>cell(e[0],e[1],e[2]));
  // extra range lines
  P.lines.forEach(L=>{
    const ln=mk('line',{x1:X(L[0]),y1:Y(L[1]),x2:X(L[2]),y2:Y(L[3]),stroke:'#333','stroke-width':0.7},g);
    
    
  });
  // axes
  const ax=mk('path',{d:`M${X(0)},${Y(2)} L${X(0)},${Y(0)} L${X(2.5)},${Y(0)}`,fill:'none',stroke:'#666','stroke-width':0.8},g);
  
  
  mainXTicks.forEach((v,k)=>{
    const tk=mk('line',{x1:X(v),y1:Y(0),x2:X(v),y2:Y(0)-4,stroke:'#666','stroke-width':0.8},g);
    
    
    const tl=txt(g,X(v),Y(0)+22,mainXTickLabels[k],15.5);
    
    
  });
  mainYTicks.forEach((v,k)=>{
    const tk=mk('line',{x1:X(0),y1:Y(v),x2:X(0)+4,y2:Y(v),stroke:'#666','stroke-width':0.8},g);
    
    
    const tl=txt(g,X(0)-6,Y(v)+5.5,mainYTickLabels[k],15.5,'end');
    
    
  });
  const ti=txt(g,P.tp[0],P.tp[1],P.title,17,'middle',{'font-weight':'bold'});
  
  
  const le=txt(g,P.lp[0],P.lp[1],'('+P.id+')',17);
  
  
  const xlab=txt(g,P.xl[0],P.xl[1],'Duration (s)',17);
  
  
  const ylab=txt(g,P.yl[0],P.yl[1]+6,P.yname,17,'middle',{transform:`rotate(-90 ${P.yl[0]} ${P.yl[1]})`});
  
  
  // insets
  P.ins.forEach((I,ii)=>{
    const ig=mk('g',{},g);
    
    
    const [l,t,r,b]=I.r;
    const IX=v=>l+(v-I.x[0])/(I.x[1]-I.x[0])*(r-l);
    const IY=v=>b-Math.min(v,0.3)/0.3*(b-t);
    const box=mk('rect',{x:l,y:t,width:r-l,height:b-t,fill:'#fff',stroke:'#8a8a8a','stroke-width':0.6},ig);
    
    
    I.xt.forEach(v=>{
      const a=mk('line',{x1:IX(v),y1:b,x2:IX(v),y2:b-2,stroke:'#8a8a8a','stroke-width':0.6},ig);
      
      
      const a2=mk('line',{x1:IX(v),y1:t,x2:IX(v),y2:t+2,stroke:'#8a8a8a','stroke-width':0.6},ig);
      
      
      const tl=txt(ig,IX(v),b+12,String(v),10);
      
      
    });
    insetYTicks.forEach((v,k)=>{
      const a=mk('line',{x1:l,y1:IY(v),x2:l+2,y2:IY(v),stroke:'#8a8a8a','stroke-width':0.6},ig);
      
      
      const a2=mk('line',{x1:r,y1:IY(v),x2:r-2,y2:IY(v),stroke:'#8a8a8a','stroke-width':0.6},ig);
      
      
      const tl=txt(ig,l-3,IY(v)+3.5,insetYTickLabels[k],10,'end');
      
      
    });
    const mu=txt(ig,l-20,(t+b)/2+3,'μ',10,'middle',{'font-style':'italic','font-family':'"Liberation Serif",serif',transform:`rotate(-90 ${l-20} ${(t+b)/2})`});
    
    
    const xl=txt(ig,(l+r)/2,b+27,I.lab,10.5);
    
    
    // stairs
    let d=`M${IX(I.s).toFixed(2)},${IY(0).toFixed(2)}`;
    I.v.forEach((v,k)=>{const xa=I.s+k*I.w,xb=xa+I.w;d+=` L${IX(xa).toFixed(2)},${IY(v).toFixed(2)} L${IX(Math.min(xb,I.x[1])).toFixed(2)},${IY(v).toFixed(2)}`;});
    const cv=mk('path',{d:d,fill:'none',stroke:'#0072BD','stroke-width':1.6,'stroke-linejoin':'miter'},ig);
    
    
    const [ll,lt,lr,lb]=I.lg;
    const lgb=mk('rect',{x:ll,y:lt,width:lr-ll,height:lb-lt,fill:'#fff',stroke:'#333','stroke-width':0.6},ig);
    
    
    const h=lb-lt;
    const m=txt(ig,ll+6,lt+h*0.38,'Mean = '+P.stats[ii][0],10,'start');
    
    
    const s=txt(ig,ll+6,lt+h*0.82,'Skew = '+P.stats[ii][1],10,'start');
    
    
  });
  // colorbar
  if(P.cb){
    const [ct,cbt,cty]=P.cb;
    const cg=mk('g',{},g);
    
    
    const bar=mk('rect',{x:1047,y:ct,width:20,height:cbt-ct,fill:'url(#cbgrad)',stroke:'#666','stroke-width':0.6},cg);
    
    
    cbTicks.forEach((v,k)=>{
      const yy=cbt-(v+0.5)/1.5*(cbt-ct);
      const tk=mk('line',{x1:1063,y1:yy,x2:1067,y2:yy,stroke:'#666','stroke-width':0.6},cg);
      
      
      const tl=txt(cg,1072,yy+5.5,cbTickLabels[k],15.5,'start');
      
      
    });
    const ct2=txt(cg,1111,cty+5,'Temperature (ºC)',15,'middle',{'font-weight':'bold',transform:`rotate(-90 1111 ${cty})`});
    
    
  }
});
</script>
</body></html>
